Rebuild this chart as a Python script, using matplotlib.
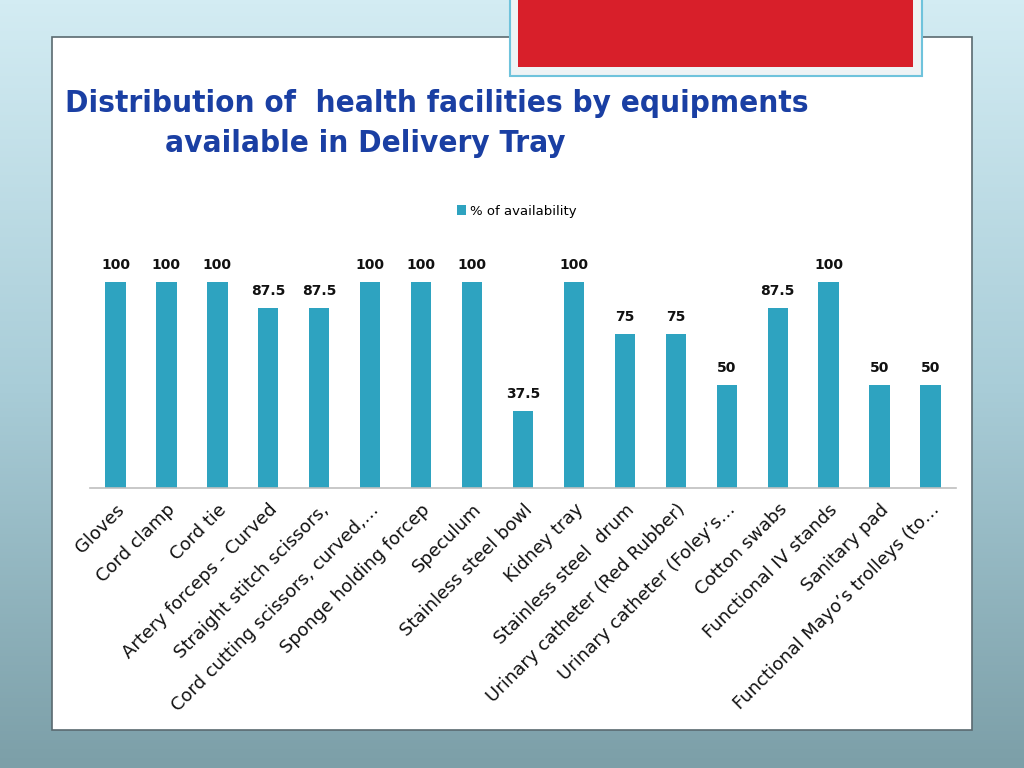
import numpy as np
import matplotlib
matplotlib.use("Agg")
import matplotlib.pyplot as plt
from matplotlib.patches import Rectangle
from matplotlib.colors import LinearSegmentedColormap

# data
categories = [
    "Gloves", "Cord clamp", "Cord tie", "Artery forceps - Curved",
    "Straight stitch scissors,", "Cord cutting scissors, curved,\u2026",
    "Sponge holding forcep", "Speculum", "Stainless steel bowl",
    "Kidney tray", "Stainless steel  drum", "Urinary catheter (Red Rubber)",
    "Urinary catheter (Foley\u2019s\u2026", "Cotton swabs", "Functional IV stands",
    "Sanitary pad", "Functional Mayo\u2019s trolleys (to\u2026",
]
availability = [100, 100, 100, 87.5, 87.5, 100, 100, 100, 37.5,
                100, 75, 75, 50, 87.5, 100, 50, 50]
series_name = "% of availability"
title_lines = ["Distribution of  health facilities by equipments",
               "available in Delivery Tray"]

BAR_COLOR = "#2ea3c0"
W, H = 1024, 768

fig = plt.figure(figsize=(W / 100, H / 100), dpi=100)

# slide background gradient
bg = fig.add_axes([0, 0, 1, 1], zorder=-10)
bg.axis("off")
cmap = LinearSegmentedColormap.from_list("slide", ["#d3ecf3", "#a9cdd8", "#7c9fa8"])
grad = np.linspace(0, 1, 256).reshape(-1, 1)
bg.imshow(grad, aspect="auto", cmap=cmap, extent=[0, 1, 0, 1], origin="upper")
bg.set_xlim(0, 1)
bg.set_ylim(0, 1)

def px(x0, y0, x1, y1):
    # pixel box (top-left origin) -> figure fraction rect
    return (x0 / W, 1 - y1 / H), (x1 - x0) / W, (y1 - y0) / H

# white content panel
xy, w, h = px(52, 37, 972, 730)
fig.patches.append(Rectangle(xy, w, h, transform=fig.transFigure,
                             facecolor="white", edgecolor="#5a6a70", lw=1.2, zorder=-5))

# red block at the top
xy, w, h = px(510, -2, 922, 76)
fig.patches.append(Rectangle(xy, w, h, transform=fig.transFigure,
                             facecolor="#eef3f5", edgecolor="#6fc3dc", lw=1.5, zorder=-4))
xy, w, h = px(518, -2, 913, 67)
fig.patches.append(Rectangle(xy, w, h, transform=fig.transFigure,
                             facecolor="#d81f2a", edgecolor="none", zorder=-3))

# title, squeezed to the width it has in the slide
tfont = dict(family="DejaVu Sans", weight="bold", stretch="condensed",
             size=24, color="#1a3fa3")
t1 = fig.text(65 / W, 1 - 103 / H, title_lines[0], ha="left", va="center", **tfont)
t2 = fig.text(165 / W, 1 - 143 / H, title_lines[1], ha="left", va="center", **tfont)
r = fig.canvas.get_renderer()
width = t1.get_window_extent(r).width
if width > 760:
    scale = 743 / width
    t1.set_fontsize(24 * scale)
    t2.set_fontsize(24 * scale)

# chart
ax = fig.add_axes([90 / W, 1 - 488 / H, (956 - 90) / W, (488 - 282) / H])
x = np.arange(len(categories))
bars = ax.bar(x, availability, width=0.4, color=BAR_COLOR, label=series_name)
ax.set_xlim(-0.5, len(categories) - 0.5)
ax.set_ylim(0, 100)
for b, v in zip(bars, availability):
    ax.annotate(f"{v:g}", (b.get_x() + b.get_width() / 2, v),
                xytext=(0, 7), textcoords="offset points",
                ha="center", va="bottom", fontsize=10, fontweight="bold",
                color="#111111", annotation_clip=False)

for s in ["top", "right", "left"]:
    ax.spines[s].set_visible(False)
ax.spines["bottom"].set_color("#bfbfbf")
ax.spines["bottom"].set_linewidth(1.2)
ax.set_yticks([])
ax.set_xticks(x)
ax.set_xticklabels(categories, rotation=45, ha="right", rotation_mode="anchor",
                   fontsize=13, color="#111111")
ax.tick_params(axis="x", length=0, pad=9)

fig.legend(handles=[bars], labels=[series_name], loc="center",
           bbox_to_anchor=(517 / W, 1 - 211 / H), frameon=False,
           fontsize=9.5, handlelength=0.7, handleheight=0.7, handletextpad=0.3)

fig.savefig("out.png", dpi=100)
